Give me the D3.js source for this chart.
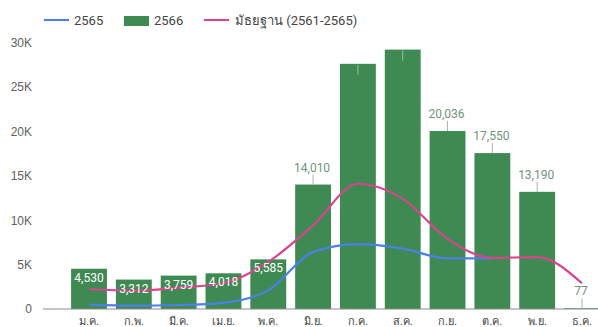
<!DOCTYPE html>
<html>
<head>
<meta charset="utf-8">
<script src="https://cdn.jsdelivr.net/npm/d3@7"></script>
<style>
  body { margin: 0; background: #fff; }
  svg { font-family: Roboto, "Noto Sans", sans-serif; }
</style>
</head>
<body>
<script>
const w = 598, h = 327;

// data
const months = ["ม.ค.", "ก.พ.", "มี.ค.", "เม.ย.", "พ.ค.", "มิ.ย.", "ก.ค.", "ส.ค.", "ก.ย.", "ต.ค.", "พ.ย.", "ธ.ค."];
const y2566 = [4530, 3312, 3759, 4018, 5585, 14010, 27600, 29200, 20036, 17550, 13190, 77];
const y2565 = [500, 380, 450, 700, 2100, 6400, 7300, 6800, 5700, 5700, null, null];
const median = [2250, 2050, 2400, 2900, 5300, 9400, 14100, 12400, 7900, 5750, 5850, 2900];
const yTicks = [0, 5000, 10000, 15000, 20000, 25000, 30000];

const green = "#3f8a53", blue = "#4a80e8", pink = "#d8448e";

const svg = d3.select("body").append("svg")
    .attr("width", w)
    .attr("height", h);

const x = d3.scaleBand()
    .domain(months)
    .range([66.6, 604.4])
    .paddingInner(0.2)
    .paddingOuter(0.1);

const y = d3.scaleLinear()
    .domain([0, 30000])
    .range([309, 42.5]);

const fmt = d3.format(",");

// y axis labels
svg.append("g")
    .attr("transform", "translate(32,0)")
    .call(d3.axisLeft(y).tickValues(yTicks).tickSize(0).tickPadding(0)
        .tickFormat(d => d === 0 ? "0" : d / 1000 + "K"))
    .call(g => g.select(".domain").remove())
    .selectAll("text")
    .attr("fill", "#616161")
    .style("font-size", "12px");

// bars
svg.append("g").selectAll("rect")
    .data(y2566)
    .join("rect")
    .attr("x", (d, i) => x(months[i]))
    .attr("y", d => y(d))
    .attr("width", x.bandwidth())
    .attr("height", d => y(0) - y(d))
    .attr("fill", green);

// x axis
svg.append("line")
    .attr("x1", 43).attr("x2", w)
    .attr("y1", y(0)).attr("y2", y(0))
    .attr("stroke", "#8a8a8a")
    .attr("stroke-width", 1);

svg.append("g")
    .attr("transform", "translate(0," + y(0) + ")")
    .call(d3.axisBottom(x).tickSize(0).tickPadding(8))
    .call(g => g.select(".domain").remove())
    .selectAll("text")
    .attr("fill", "#444")
    .style("font-size", "11px");

// lines
const line = d3.line()
    .defined(d => d != null)
    .x((d, i) => x(months[i]) + x.bandwidth() / 2)
    .y(d => y(d))
    .curve(d3.curveMonotoneX);

svg.append("path")
    .attr("d", line(y2565))
    .attr("fill", "none")
    .attr("stroke", blue)
    .attr("stroke-width", 2.2);

svg.append("path")
    .attr("d", line(median))
    .attr("fill", "none")
    .attr("stroke", pink)
    .attr("stroke-width", 2.2);

// bar labels
const labels = svg.append("g").style("font-size", "12px");
y2566.forEach((v, i) => {
    const cx = x(months[i]) + x.bandwidth() / 2;
    const top = y(v);
    if (v < 6000 && v > 1000) {
        labels.append("text")
            .attr("x", cx).attr("y", top + 13)
            .attr("text-anchor", "middle")
            .attr("fill", "#fff")
            .text(fmt(v));
    } else if (top > 80) {
        labels.append("line")
            .attr("x1", cx).attr("x2", cx)
            .attr("y1", top).attr("y2", top - 10)
            .attr("stroke", "#b0b0b0");
        labels.append("text")
            .attr("x", cx - 1).attr("y", top - 13)
            .attr("text-anchor", "middle")
            .attr("fill", "#73937c")
            .text(fmt(v));
    } else {
        // no room above: stub only
        labels.append("line")
            .attr("x1", cx).attr("x2", cx)
            .attr("y1", top + 1).attr("y2", top + 11)
            .attr("stroke", "#9cbfa5");
    }
});

// legend
const legend = svg.append("g").style("font-size", "13px").attr("fill", "#444");
legend.append("line").attr("x1", 44).attr("x2", 69).attr("y1", 20).attr("y2", 20)
    .attr("stroke", blue).attr("stroke-width", 2);
legend.append("text").attr("x", 74).attr("y", 25).text("2565");
legend.append("rect").attr("x", 124).attr("y", 16).attr("width", 25).attr("height", 10)
    .attr("fill", green);
legend.append("text").attr("x", 154).attr("y", 25).text("2566");
legend.append("line").attr("x1", 204).attr("x2", 229).attr("y1", 20).attr("y2", 20)
    .attr("stroke", pink).attr("stroke-width", 2);
legend.append("text").attr("x", 235).attr("y", 25).text("มัธยฐาน (2561-2565)");
</script>
</body>
</html>
